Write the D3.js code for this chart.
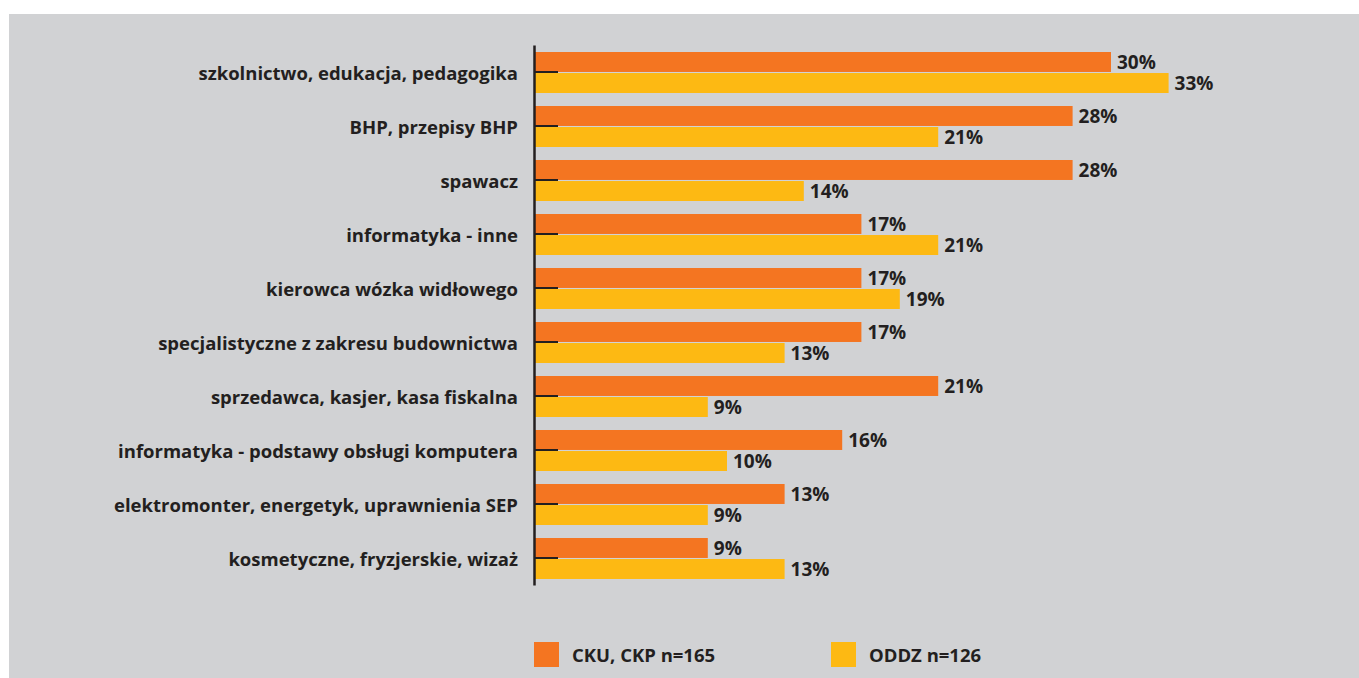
<!DOCTYPE html>
<html>
<head>
<meta charset="utf-8">
<script src="https://cdn.jsdelivr.net/npm/d3@7"></script>
<style>
  html, body { margin: 0; padding: 0; background: #ffffff; }
  svg { display: block; }
  text { font-family: "Open Sans", Lato, sans-serif; font-weight: 700; fill: #231f20; }
</style>
</head>
<body>
<svg id="chart" width="1359" height="678"></svg>
<script>
// Categories (top to bottom)
const categories = [
  "szkolnictwo, edukacja, pedagogika",
  "BHP, przepisy BHP",
  "spawacz",
  "informatyka - inne",
  "kierowca wózka widłowego",
  "specjalistyczne z zakresu budownictwa",
  "sprzedawca, kasjer, kasa fiskalna",
  "informatyka - podstawy obsługi komputera",
  "elektromonter, energetyk, uprawnienia SEP",
  "kosmetyczne, fryzjerskie, wizaż"
];
const seriesNames = ["CKU, CKP n=165", "ODDZ n=126"];
const ckuValues  = [30, 28, 28, 17, 17, 17, 21, 16, 13, 9];
const oddzValues = [33, 21, 14, 21, 19, 13, 9, 10, 9, 13];
const colors = ["#f47521", "#fdb913"];

const svg = d3.select("#chart");

// Grey panel
svg.append("rect")
  .attr("x", 9).attr("y", 14)
  .attr("width", 1359 - 9).attr("height", 678 - 14)
  .attr("fill", "#d1d2d4");

const x0 = 535;
const x = d3.scaleLinear().domain([0, 33]).range([x0, x0 + 33 * 19.2]);
const y = d3.scaleBand().domain(categories).range([45, 585]).paddingInner(0);
const ySub = d3.scaleBand().domain(seriesNames).range([7, 48]).paddingInner(0.05);

const rows = categories.map((c, i) => ({
  cat: c,
  vals: [
    { s: seriesNames[0], v: ckuValues[i], color: colors[0] },
    { s: seriesNames[1], v: oddzValues[i], color: colors[1] }
  ]
}));

const g = svg.append("g").selectAll("g").data(rows).join("g")
  .attr("transform", d => `translate(0,${y(d.cat)})`);

g.selectAll("rect").data(d => d.vals).join("rect")
  .attr("x", x(0))
  .attr("y", d => ySub(d.s))
  .attr("width", d => x(d.v) - x(0))
  .attr("height", ySub.bandwidth())
  .attr("fill", d => d.color);

g.selectAll("text.val").data(d => d.vals).join("text")
  .attr("class", "val")
  .attr("x", d => x(d.v) + 6)
  .attr("y", d => ySub(d.s) + ySub.bandwidth() / 2)
  .attr("dy", "0.36em")
  .attr("font-size", 19)
  .text(d => d.v + "%");

// Category axis with ticks pointing into the plot
const axis = d3.axisLeft(y).tickSizeInner(-24).tickSizeOuter(0).tickPadding(16);
const ax = svg.append("g").attr("transform", "translate(534,0)").call(axis);
ax.select(".domain").attr("stroke", "#231f20").attr("stroke-width", 2.5);
ax.selectAll(".tick line").attr("stroke", "#231f20").attr("stroke-width", 2);
ax.selectAll(".tick text")
  .attr("font-size", 18.5)
  .attr("dy", "0.45em")
  .attr("font-family", "'Open Sans', Lato, sans-serif")
  .attr("font-weight", 700)
  .attr("fill", "#231f20");

// Legend
const legendX = [534, 831];
const lg = svg.append("g").selectAll("g").data(seriesNames).join("g")
  .attr("transform", (d, i) => `translate(${legendX[i]},642)`);
lg.append("rect").attr("width", 25).attr("height", 25)
  .attr("fill", (d, i) => colors[i]);
lg.append("text").attr("x", 38).attr("y", 12.5).attr("dy", "0.38em")
  .attr("font-size", 18.5).text(d => d);
</script>
</body>
</html>
